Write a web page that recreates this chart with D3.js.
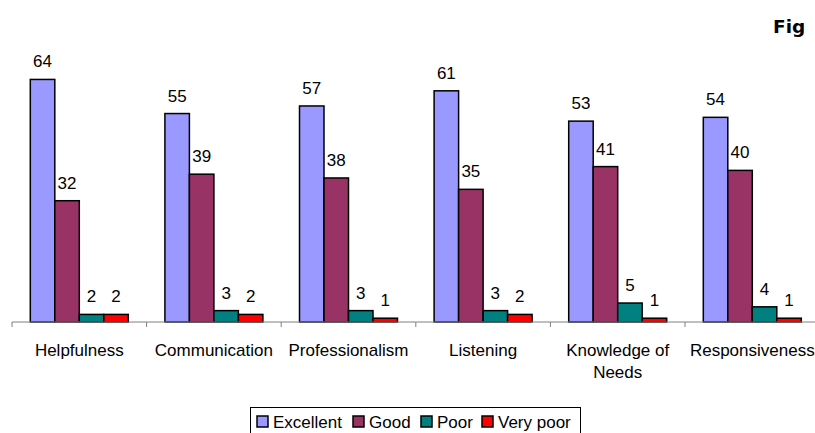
<!DOCTYPE html>
<html><head><meta charset="utf-8">
<script src="https://cdn.jsdelivr.net/npm/d3@7"></script>
<style>body{margin:0;background:#fff}svg{display:block;font-family:"Liberation Sans",Arial,sans-serif}</style>
</head><body><svg id="c" width="815" height="433"></svg>
<script>
const categories = ["Helpfulness","Communication","Professionalism","Listening","Knowledge of Needs","Responsiveness"];
const seriesNames = ["Excellent","Good","Poor","Very poor"];
const excellent = [64,55,57,61,53,54];
const good = [32,39,38,35,41,40];
const poor = [2,3,3,3,5,4];
const veryPoor = [2,2,1,2,1,1];
const colors = ["#9999FF","#993366","#008080","#FF0000"];
const series = [excellent, good, poor, veryPoor];

const svg = d3.select("#c");
const base = 322, left = 12, right = 819.6;
const x0 = d3.scaleBand().domain(categories).range([left, right]).paddingInner(0.272).paddingOuter(0.136);
const x1 = d3.scaleBand().domain(seriesNames).range([0, x0.bandwidth()]);
const y = d3.scaleLinear().domain([0,70]).range([base, base - 265.3]);

// title
svg.append("text").attr("x",773).attr("y",33).attr("font-size",18.5).attr("font-weight","bold")
  .attr("font-family","'DejaVu Sans',sans-serif").text("Fig");

const g = svg.append("g");
categories.forEach((c,i)=>{
  seriesNames.forEach((s,j)=>{
    const v = series[j][i];
    const bx = x0(c)+x1(s);
    g.append("rect").attr("x",bx).attr("y",y(v)).attr("width",x1.bandwidth()).attr("height",base-y(v))
      .attr("fill",colors[j]).attr("stroke","#000").attr("stroke-width",1.5);
    g.append("text").attr("x",bx+x1.bandwidth()/2).attr("y",y(v)-12).attr("text-anchor","middle")
      .attr("font-size",17).attr("fill","#000").text(v);
  });
});

// axis
const step = x0.step();
svg.append("line").attr("x1",left).attr("x2",815).attr("y1",base).attr("y2",base).attr("stroke","#808080").attr("stroke-width",1);
d3.range(categories.length+1).forEach(k=>{
  const tx = left + k*step;
  svg.append("line").attr("x1",tx).attr("x2",tx).attr("y1",base).attr("y2",base+5).attr("stroke","#808080");
});
categories.forEach(c=>{
  const cx = x0(c)+x0.bandwidth()/2;
  const words = c==="Knowledge of Needs" ? ["Knowledge of","Needs"] : [c];
  words.forEach((w,k)=>{
    svg.append("text").attr("x",cx).attr("y",356+k*22).attr("text-anchor","middle").attr("font-size",17).text(w);
  });
});

// legend
const lg = svg.append("g");
lg.append("rect").attr("x",250.5).attr("y",407.5).attr("width",330).attr("height",40).attr("fill","#fff").attr("stroke","#000");
const lx = [257,353,421,482];
seriesNames.forEach((s,j)=>{
  lg.append("rect").attr("x",lx[j]).attr("y",416).attr("width",11).attr("height",11)
    .attr("fill",colors[j]).attr("stroke","#000").attr("stroke-width",1.5);
  lg.append("text").attr("x",lx[j]+16).attr("y",428).attr("font-size",17).text(s);
});
</script></body></html>
